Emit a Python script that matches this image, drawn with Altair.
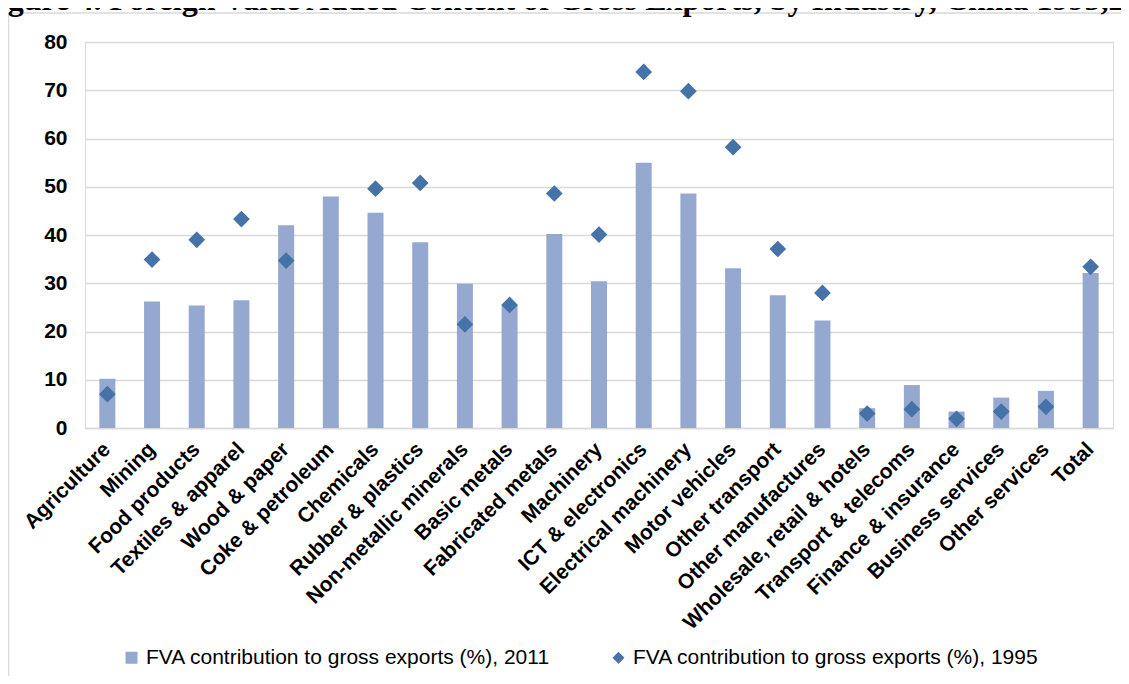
import altair as alt
import pandas as pd

categories = ["Agriculture", "Mining", "Food products", "Textiles & apparel", "Wood & paper",
              "Coke & petroleum", "Chemicals", "Rubber & plastics", "Non-metallic minerals",
              "Basic metals", "Fabricated metals", "Machinery", "ICT & electronics",
              "Electrical machinery", "Motor vehicles", "Other transport", "Other manufactures",
              "Wholesale, retail & hotels", "Transport & telecoms", "Finance & insurance",
              "Business services", "Other services", "Total"]
fva_2011 = [10.2, 26.2, 25.4, 26.5, 42.0, 48.0, 44.6, 38.5, 29.9, 25.4, 40.2, 30.4, 55.0,
            48.6, 33.1, 27.5, 22.3, 4.1, 8.9, 3.4, 6.3, 7.7, 32.1]
fva_1995 = [7.0, 34.9, 39.0, 43.3, 34.7, None, 49.6, 50.8, 21.5, 25.5, 48.6, 40.1, 73.8,
            69.8, 58.2, 37.1, 28.0, 3.0, 3.9, 1.9, 3.4, 4.4, 33.4]
series_names = ["FVA contribution to gross exports (%), 2011",
                "FVA contribution to gross exports (%), 1995"]
y_ticks = [0, 10, 20, 30, 40, 50, 60, 70, 80]
title_text = "Figure 4. Foreign Value Added Content of Gross Exports, by Industry, China 1995,2011"

BAR_COLOR = "#95A9D0"
DIAMOND_COLOR = "#4572A7"
GRID = "#D9D9D9"

rows = []
for c, v in zip(categories, fva_2011):
    rows.append({"category": c, "series": series_names[0], "value": v})
for c, v in zip(categories, fva_1995):
    if v is not None:
        rows.append({"category": c, "series": series_names[1], "value": v})
df = pd.DataFrame(rows)

x_enc = alt.X("category:N", sort=categories, title=None,
              scale=alt.Scale(paddingInner=0.642, paddingOuter=0.321),
              axis=alt.Axis(labelAngle=315, labelAlign="right", labelBaseline="middle",
                            labelFont="Liberation Sans", labelFontWeight="bold",
                            labelFontSize=21, labelColor="black", labelPadding=18,
                            labelLimit=500, labelOverlap=False, labelBound=False,
                            ticks=False, domain=True, domainColor=GRID, domainWidth=1.5,
                            grid=False))
y_enc = alt.Y("value:Q", title=None,
              scale=alt.Scale(domain=[0, 80], nice=False, zero=True),
              axis=alt.Axis(values=y_ticks, labelFont="Liberation Sans",
                            labelFontWeight="bold", labelFontSize=21, labelColor="black",
                            labelPadding=18, ticks=False, domain=False,
                            grid=True, gridColor=GRID, gridWidth=1.5))
legend_opts = dict(orient="none", legendX=36, legendY=605,
                   direction="horizontal", columnPadding=57,
                   labelFont="Liberation Sans", labelFontSize=21,
                   labelColor="black", labelOffset=4,
                   symbolSize=144, symbolStrokeWidth=0,
                   labelLimit=600, padding=0)
color_enc = alt.Color("series:N", title=None,
                      scale=alt.Scale(domain=series_names, range=[BAR_COLOR, DIAMOND_COLOR]),
                      legend=alt.Legend(**legend_opts))
shape_enc = alt.Shape("series:N", title=None,
                      scale=alt.Scale(domain=series_names, range=["square", "diamond"]),
                      legend=alt.Legend(**legend_opts))

base = alt.Chart(df)
bars = base.transform_filter(alt.datum.series == series_names[0]).mark_bar(
    opacity=1).encode(x=x_enc, y=y_enc, color=color_enc, shape=shape_enc)
points = base.transform_filter(alt.datum.series == series_names[1]).mark_point(
    filled=True, size=280, opacity=1).encode(x=x_enc, y=y_enc, color=color_enc,
                                               shape=shape_enc)

deco = pd.DataFrame({"t": [title_text]})
frame_left = alt.Chart(deco).mark_rule(color=GRID, strokeWidth=1.5).encode(
    x=alt.value(-76.5), y=alt.value(-29), y2=alt.value(700))
frame_top = alt.Chart(deco).mark_rule(color=GRID, strokeWidth=1.5).encode(
    x=alt.value(-76.5), x2=alt.value(1100), y=alt.value(-29))
title = alt.Chart(deco).mark_text(font="Liberation Serif", fontWeight="bold", fontSize=32,
                                  align="center", baseline="alphabetic", color="black").encode(
    text="t:N", x=alt.value(490), y=alt.value(-32))

chart = alt.layer(frame_left, frame_top, bars, points, title).properties(
    width=1028, height=386,
    autosize=alt.AutoSizeParams(type="none"),
    padding={"left": 77, "top": 34, "right": 8, "bottom": 248},
).configure_view(stroke=None).configure(background="white")

chart.save("out.html", embed_options={"renderer": "svg", "actions": False})
